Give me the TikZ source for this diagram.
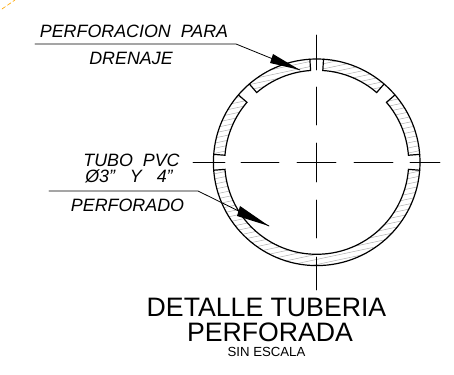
\documentclass[tikz,border=0pt]{standalone}
\usepackage{fontspec}
\setmainfont{Liberation Sans}
\begin{document}
\begin{tikzpicture}
    [x=.75pt,y=.75pt,line cap=round,
    % Styles
    pipe line/.style={line width=.9pt},
    center line/.style={line width=.6pt},
    leader line/.style={line width=.6pt},
    hatch line/.style={line width=.4pt,black!30},
    note text/.style={inner sep=0pt,anchor=base,font=\fontsize{13.4}{13}\selectfont\itshape},
    title text/.style={inner sep=0pt,anchor=base,font=\fontsize{20}{20}\selectfont}]
    \useasboundingbox (0,0) rectangle (454,375);
    \coordinate (pipe center) at (316.7,212.7);
    % The hatching
    \foreach \from/\to in {4.4/40.7, 49.3/86.2, 93.8/130.7, 139.3/175.6, 184.4/355.6} {
      \begin{scope}
        \clip ([shift={(\from:103.3)}]pipe center)
        arc [start angle=\from, end angle=\to, radius=103.3]
        -- ([shift={(\to:92)}]pipe center)
        arc [start angle=\to, end angle=\from, radius=92] -- cycle;
        \foreach \d in {-22,...,22}
        \draw[hatch line,shift={(pipe center)},rotate=12] (-115,\d*5) -- (115,\d*5);
      \end{scope}
    }
    % The pipe
    \draw[pipe line] (pipe center) circle [radius=103.3];
    \foreach \from/\to in {4.4/40.7, 49.3/86.2, 93.8/130.7, 139.3/175.6, 184.4/355.6}
    \draw[pipe line] ([shift={(\from:103.3)}]pipe center) -- ([shift={(\from:92)}]pipe center)
    arc [start angle=\from, end angle=\to, radius=92] -- ([shift={(\to:103.3)}]pipe center);
    % Center lines
    \foreach \a/\b in {340/305, 288/250, 232/193, 175/137, 118/85}
    \draw[center line] (316.7,\a) -- (316.7,\b);
    \foreach \a/\b in {193/225, 241/279, 297/336, 354/393, 410/440}
    \draw[center line] (\a,212.7) -- (\b,212.7);
    % Leaders
    \coordinate (drain tip) at (300,305);
    \coordinate (tube tip) at (269,149);
    \draw[leader line] (35,331) -- (236,331) -- (drain tip);
    \fill (273,321) -- (drain tip) -- (270,312) -- cycle;
    \draw[leader line] (49,184) -- (198,184) -- (tube tip);
    \fill (240,169) -- (tube tip) -- (237,159) -- cycle;
    % Texts
    \node[note text] (perforacion) at (134,337) {PERFORACION\ \ PARA};
    \node[note text] (drenaje) at (131,310) {DRENAJE};
    \node[note text] (tubo) at (131.5,208) {TUBO\ \ PVC};
    \node[note text] (diametro) at (129,192) {Ø3”\ \ \ Y\ \ \ 4”};
    \node[note text] (perforado) at (127.5,163) {PERFORADO};
    \node[title text] (detalle) at (266.5,58) {DETALLE TUBERIA};
    \node[title text] (perforada) at (270,33) {PERFORADA};
    \node[inner sep=0pt,anchor=base,font=\fontsize{9.9}{9}\selectfont] (escala) at (266.5,18) {SIN ESCALA};
    % Stray mark
    \draw[orange!70!yellow,line width=.5pt,densely dashed] (2,366) -- (15,375);
  \end{tikzpicture}
\end{document}
